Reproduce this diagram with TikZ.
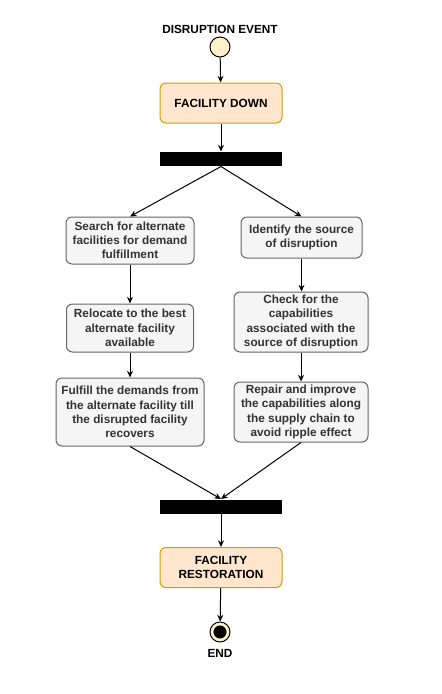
\documentclass[tikz,border=0pt]{standalone}
\usepackage{fontspec}
\setmainfont{Liberation Sans}
\usetikzlibrary{arrows.meta}
\definecolor{boxfill}{HTML}{F5F5F5}
\definecolor{boxline}{HTML}{666666}
\definecolor{boxtext}{HTML}{333333}
\definecolor{peach}{HTML}{FFE6CC}
\definecolor{peachline}{HTML}{D79B00}
\definecolor{dotfill}{HTML}{FFF2CC}
\begin{document}
\begin{tikzpicture}[x=0.75pt,y=-0.75pt,line width=0.75pt,
	every node/.style={font=\fontsize{8.85}{10.7}\selectfont\bfseries,align=center,inner sep=0pt},
	stepbox/.style={draw=boxline,fill=boxfill,text=boxtext,rounded corners=4.5pt},
	statebox/.style={draw=peachline,fill=peach,rounded corners=4.5pt,minimum width=91.5pt,minimum height=30pt},
	syncbar/.style={fill=black,minimum width=91.5pt,minimum height=10.5pt},
	dot/.style={circle,draw,fill=dotfill,minimum size=15pt},
	flow/.style={-{Stealth[length=5pt,width=4.5pt]}}]
	\useasboundingbox (0,0) rectangle (442,694);
	\node (evtlabel) at (220,29) {DISRUPTION EVENT};
	\node[dot] (start) at (220,47) {};
	\node[statebox] (down) at (221,103) {FACILITY DOWN};
	\node[syncbar] (fork) at (221,159) {};
	% left branch
	\node[stepbox,minimum width=96pt,minimum height=35.25pt] (search) at (130,240.5) {Search for alternate\\facilities for demand\\fulfillment};
	\node[stepbox,minimum width=95.25pt,minimum height=36pt] (relocate) at (130,328) {Relocate to the best\\alternate facility\\available};
	\node[stepbox,minimum width=111pt,minimum height=51pt] (fulfill) at (130,412) {Fulfill the demands from\\the alternate facility till\\the disrupted facility\\recovers};
	% right branch
	\node[stepbox,minimum width=90.75pt,minimum height=30.75pt] (identify) at (301.5,237.5) {Identify the source\\of disruption};
	\node[stepbox,minimum width=100.5pt,minimum height=45pt] (check) at (301,322) {Check for the\\capabilities\\associated with the\\source of disruption};
	\node[stepbox,minimum width=100.5pt,minimum height=45pt] (repair) at (301,412) {Repair and improve\\the capabilities along\\the supply chain to\\avoid ripple effect};
	\node[syncbar] (join) at (221,506.5) {};
	\node[statebox] (restore) at (221,567.5) {FACILITY\\RESTORATION};
	\node[dot] (stop) at (220,632) {};
	\fill (stop) circle (4.9pt);
	\node (endlabel) at (220,653) {END};
	\draw[flow] (start) -- (down);
	\draw[flow] (down) -- (fork);
	\draw[flow] (fork.south) -- (search.north);
	\draw[flow] (fork.south) -- (identify.north);
	\draw[flow] (search) -- (relocate);
	\draw[flow] (relocate) -- (fulfill);
	\draw[flow] (identify.south) -- (identify.south |- check.north);
	\draw[flow] (check) -- (repair);
	\draw[flow] (fulfill.south) -- (join.north);
	\draw[flow] (repair.south) -- (join.north);
	\draw[flow] (join) -- (restore);
	\draw[flow] (restore) -- (stop);
\end{tikzpicture}
\end{document}
